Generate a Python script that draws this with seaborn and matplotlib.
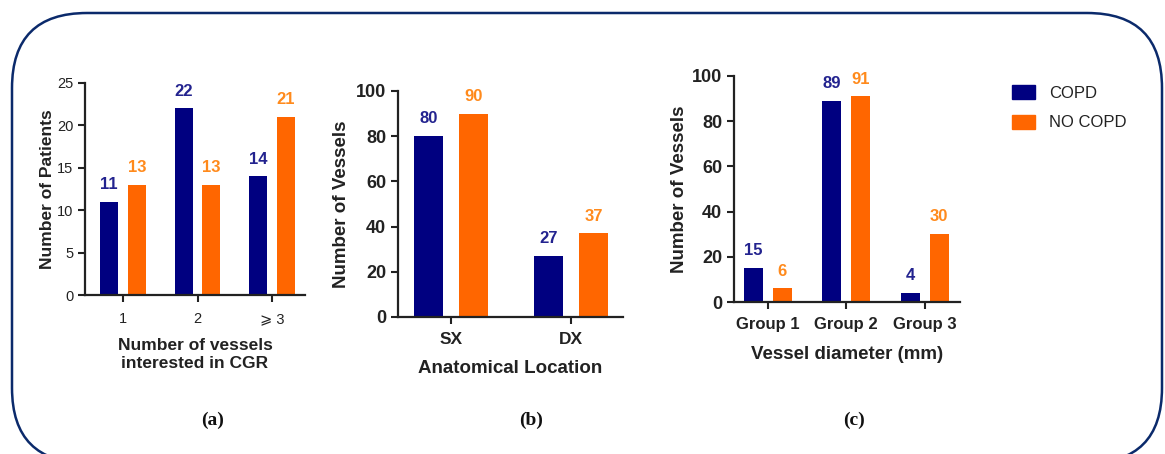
import pandas as pd
import matplotlib.pyplot as plt
import seaborn as sns
from matplotlib.patches import FancyBboxPatch

# data
groups = ["COPD", "NO COPD"]

vessels_cat = ["1", "2", "\u2a7e 3"]
patients_copd = [11, 22, 14]
patients_nocopd = [13, 13, 21]

location_cat = ["SX", "DX"]
location_copd = [80, 27]
location_nocopd = [90, 37]

diameter_cat = ["Group 1", "Group 2", "Group 3"]
diameter_copd = [15, 89, 4]
diameter_nocopd = [6, 91, 30]

bar_colors = {"COPD": "#000080", "NO COPD": "#FF6600"}
label_colors = {"COPD": "#23238f", "NO COPD": "#FF8A1C"}


def long_form(cats, copd, nocopd):
    rows = []
    for c, a, b in zip(cats, copd, nocopd):
        rows.append({"cat": c, "group": "COPD", "value": a})
        rows.append({"cat": c, "group": "NO COPD", "value": b})
    return pd.DataFrame(rows)


def draw_panel(ax, df, cats, ylim, yticks, xlim, xlabel, ylabel,
               xtick_size, ytick_size, tick_weight, xlabel_size, ylabel_size,
               xpad, xlabelpad, ylabelpad):
    sns.barplot(data=df, x="cat", y="value", hue="group", order=cats,
                hue_order=groups, palette=bar_colors, saturation=1,
                width=0.74, gap=0.35, linewidth=0, ax=ax, legend=False)
    for cont, g in zip(ax.containers, groups):
        ax.bar_label(cont, padding=7, color=label_colors[g], fontsize=12,
                     fontweight="bold")
    ax.set_ylim(*ylim)
    ax.set_yticks(yticks)
    ax.set_xlim(*xlim)
    ax.set_xlabel(xlabel, fontsize=xlabel_size, fontweight="bold",
                  color="#222222", labelpad=xlabelpad)
    ax.set_ylabel(ylabel, fontsize=ylabel_size, fontweight="bold",
                  color="#222222", labelpad=ylabelpad)
    ax.tick_params(axis="both", direction="out", length=5, width=1.5,
                   color="#222222", labelcolor="#222222")
    ax.tick_params(axis="x", pad=xpad, labelsize=xtick_size)
    ax.tick_params(axis="y", labelsize=ytick_size)
    for lab in ax.get_xticklabels() + ax.get_yticklabels():
        lab.set_fontweight(tick_weight)
    sns.despine(ax=ax)
    for s in ["left", "bottom"]:
        ax.spines[s].set_linewidth(1.6)
        ax.spines[s].set_color("#222222")


def main():
    sns.set_theme(style="ticks")
    plt.rcParams["font.family"] = ["Liberation Sans", "DejaVu Sans"]

    fig = plt.figure(figsize=(11.65, 4.54), dpi=100)

    # rounded frame around the whole figure (pixel coordinates, y up)
    frame_ax = fig.add_axes([0, 0, 1, 1])
    frame_ax.set_xlim(0, 1165)
    frame_ax.set_ylim(0, 454)
    frame_ax.axis("off")
    frame_ax.add_patch(FancyBboxPatch((12, -9), 1150, 450,
                                      boxstyle="round,pad=0,rounding_size=75",
                                      fill=False, edgecolor="#0b2a6b", linewidth=1.8))

    ax_a = fig.add_axes([0.0730, 0.3502, 0.1888, 0.4670])
    ax_b = fig.add_axes([0.3416, 0.3018, 0.1931, 0.4978])
    ax_c = fig.add_axes([0.6300, 0.3348, 0.1940, 0.4978])

    draw_panel(ax_a, long_form(vessels_cat, patients_copd, patients_nocopd),
               vessels_cat, (0, 25), range(0, 26, 5), (-0.51, 2.44),
               "Number of vessels\ninterested in CGR", "Number of Patients",
               10.5, 10.5, "normal", 12.5, 12.5, 7, 9, 1)
    draw_panel(ax_b, long_form(location_cat, location_copd, location_nocopd),
               location_cat, (0, 100), range(0, 101, 20), (-0.44, 1.43),
               "Anatomical Location", "Number of Vessels",
               12.5, 13, "bold", 13.5, 13.5, 6, 9, 4)
    draw_panel(ax_c, long_form(diameter_cat, diameter_copd, diameter_nocopd),
               diameter_cat, (0, 100), range(0, 101, 20), (-0.43, 2.45),
               "Vessel diameter (mm)", "Number of Vessels",
               12, 13, "bold", 13.5, 13.5, 6, 10, 3)

    handles = [plt.Rectangle((0, 0), 1, 1, color=bar_colors[g]) for g in groups]
    fig.legend(handles, groups, loc="upper left",
               bbox_to_anchor=(997 / 1165, 1 - 70 / 454),
               frameon=False, fontsize=12, handlelength=1.4, handleheight=0.9,
               labelspacing=0.85, handletextpad=0.8, labelcolor="#222222")

    for x, t in [(213, "(a)"), (531, "(b)"), (854, "(c)")]:
        fig.text(x / 1165, 1 - 420 / 454, t, ha="center", va="center",
                 fontsize=14, fontweight="bold", family="Liberation Serif",
                 color="#111111")

    fig.savefig("out.png", dpi=100)
    plt.close(fig)


if __name__ == "__main__":
    main()
